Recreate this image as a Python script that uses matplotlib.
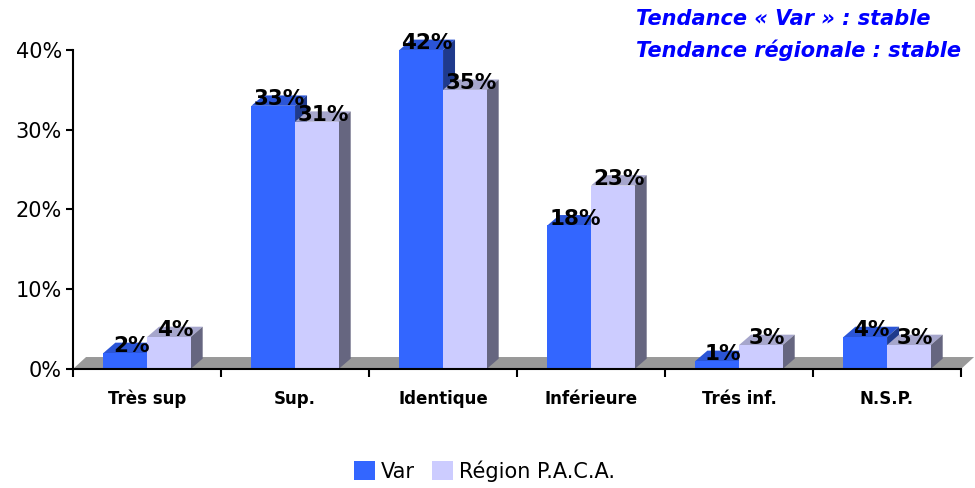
import matplotlib
matplotlib.use('Agg')
import matplotlib.pyplot as plt
from matplotlib.patches import Polygon, Patch

# data
categories = ['Très sup', 'Sup.', 'Identique', 'Inférieure', 'Trés inf.', 'N.S.P.']
var_values = [2, 33, 42, 18, 1, 4]
paca_values = [4, 31, 35, 23, 3, 3]
series_names = ['Var', 'Région P.A.C.A.']
y_ticks = [0, 10, 20, 30, 40]
notes = ['Tendance « Var » : stable', 'Tendance régionale : stable']

# colours (front, top, side)
var_cols = ('#3366FF', '#2B55D6', '#1F3A8C')
paca_cols = ('#CCCCFF', '#A6A6CC', '#666680')
floor_col = '#999999'

ymax = 40
dx, dy = 0.081, 1.3      # fake 3d depth in data units
bar_w = 0.295

fig = plt.figure(figsize=(9.75, 4.88), dpi=100)
ax = fig.add_axes([0.0749, 0.2439, 0.9108, 0.6537])
ax.set_xlim(0, len(categories))
ax.set_ylim(0, ymax)


def bar3d(x0, h, cols, z):
    h = min(h, ymax)  # excel clips at the axis max
    front = [(x0, 0), (x0 + bar_w, 0), (x0 + bar_w, h), (x0, h)]
    top = [(x0, h), (x0 + bar_w, h), (x0 + bar_w + dx, h + dy), (x0 + dx, h + dy)]
    side = [(x0 + bar_w, 0), (x0 + bar_w + dx, dy), (x0 + bar_w + dx, h + dy), (x0 + bar_w, h)]
    for pts, c in ((top, cols[1]), (side, cols[2]), (front, cols[0])):
        ax.add_patch(Polygon(pts, closed=True, facecolor=c, edgecolor='none',
                             zorder=z, clip_on=False))


# floor
n = len(categories)
ax.add_patch(Polygon([(0, 0), (n, 0), (n + 0.088, 1.5), (0.088, 1.5)], closed=True,
                     facecolor=floor_col, edgecolor='none', zorder=1, clip_on=False))

for i in range(n):
    x_var = i + 0.205
    x_paca = x_var + bar_w
    bar3d(x_var, var_values[i], var_cols, 2)
    bar3d(x_paca, paca_values[i], paca_cols, 3)
    for x0, v in ((x_var, var_values[i]), (x_paca, paca_values[i])):
        ax.text(x0 + bar_w / 2 + dx / 2, min(v, ymax) + 0.1, '%d%%' % v,
                ha='center', va='baseline', fontsize=15.5, fontweight='bold',
                color='black', zorder=5, clip_on=False)

# axes styling
for s in ('top', 'right'):
    ax.spines[s].set_visible(False)
ax.spines['left'].set_linewidth(1.5)
ax.spines['bottom'].set_linewidth(1.5)
ax.spines['bottom'].set_zorder(4)
ax.set_yticks(y_ticks)
ax.set_yticklabels(['%d%%' % t for t in y_ticks])
ax.tick_params(axis='y', length=5, width=1.5, pad=3, labelsize=15)
ax.set_xticks(range(n + 1))
ax.set_xticklabels([])
ax.set_xticks([i + 0.5 for i in range(n)], minor=True)
ax.set_xticklabels(categories, minor=True, fontsize=12, fontweight='bold')
ax.tick_params(axis='x', which='major', length=6, width=1.5)
ax.tick_params(axis='x', which='minor', length=0, pad=15)

# notes top right
fig.text(0.652, 0.9488, notes[0], color='#0000FF', fontsize=15,
         fontweight='bold', fontstyle='italic', va='baseline')
fig.text(0.652, 0.883, notes[1], color='#0000FF', fontsize=15,
         fontweight='bold', fontstyle='italic', va='baseline')

handles = [Patch(facecolor=var_cols[0]), Patch(facecolor=paca_cols[0])]
fig.legend(handles, series_names, loc='center', bbox_to_anchor=(0.497, 0.035),
           ncol=2, frameon=False, fontsize=15, handlelength=1.0, handleheight=1.0,
           handletextpad=0.3, columnspacing=0.8)

fig.savefig('out.png', dpi=100)
